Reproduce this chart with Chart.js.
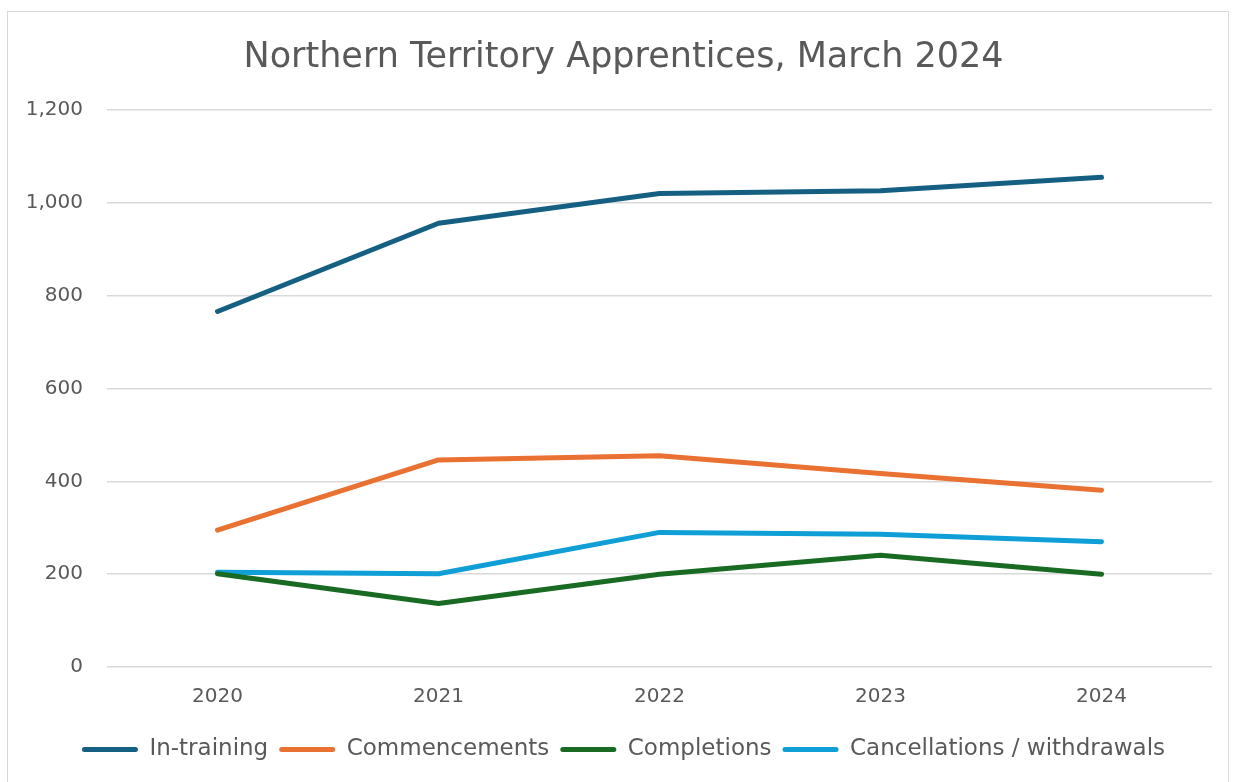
<!DOCTYPE html>
<html>
<head>
<meta charset="utf-8">
<title>Northern Territory Apprentices, March 2024</title>
<script src="https://cdn.jsdelivr.net/npm/chart.js@4.4.1/dist/chart.umd.min.js"></script>
<style>
  html, body { margin: 0; padding: 0; background: #fff; }
  .wrap { position: relative; width: 1236px; height: 782px; overflow: hidden; }
  .frame { position: absolute; left: 7px; top: 11px; width: 1222px; height: 800px; border: 1px solid #d9d9d9; box-sizing: border-box; }
  canvas { position: absolute; left: 0; top: 0; }
</style>
</head>
<body>
<div class="wrap">
  <div class="frame"></div>
  <canvas id="apprenticesChart" width="1236" height="782"></canvas>
</div>
<script>
// Data
const years = ['2020', '2021', '2022', '2023', '2024'];
const inTraining = [766, 956, 1020, 1026, 1055];
const commencements = [295, 446, 455, 417, 381];
const completions = [201, 137, 200, 241, 200];
const cancellations = [204, 201, 290, 286, 270];
const yTicks = [0, 200, 400, 600, 800, 1000, 1200];

const textColor = '#595959';
const gridColor = '#d9d9d9';
const fontFamily = "'DejaVu Sans', sans-serif";

function lineSet(label, data, color) {
    return {
        label: label,
        data: data,
        borderColor: color,
        backgroundColor: color,
        borderWidth: 5,
        borderCapStyle: 'round',
        borderJoinStyle: 'round',
        pointRadius: 0,
        pointHoverRadius: 0,
        tension: 0,
        fill: false
    };
}

// let the y tick labels run past the padded box on the left
const unclipYLabels = {
    id: 'unclipYLabels',
    afterLayout(chart) {
        chart.scales.y.left = 0;
    }
};

const ctx = document.getElementById('apprenticesChart');
new Chart(ctx, {
    type: 'line',
    data: {
        labels: years,
        datasets: [
            lineSet('In-training', inTraining, '#156082'),
            lineSet('Commencements', commencements, '#E97132'),
            lineSet('Completions', completions, '#196B24'),
            lineSet('Cancellations / withdrawals', cancellations, '#0F9ED5')
        ]
    },
    plugins: [unclipYLabels],
    options: {
        responsive: false,
        animation: false,
        layout: {
            padding: { top: 37, right: 24, bottom: 11, left: 35 }
        },
        plugins: {
            title: {
                display: true,
                text: 'Northern Territory Apprentices, March 2024',
                color: textColor,
                font: { family: fontFamily, size: 35, weight: 'normal' },
                padding: { top: 0, bottom: 31 }
            },
            legend: {
                position: 'bottom',
                labels: {
                    color: textColor,
                    font: { family: fontFamily, size: 23 },
                    boxWidth: 56,
                    boxHeight: 5,
                    padding: 11,
                    useBorderRadius: true,
                    borderRadius: 2.5,
                    generateLabels(chart) {
                        const items = Chart.defaults.plugins.legend.labels.generateLabels(chart);
                        items.forEach(item => {
                            item.lineWidth = 0;
                            item.fillStyle = item.strokeStyle;
                        });
                        return items;
                    }
                }
            },
            tooltip: { enabled: false }
        },
        scales: {
            x: {
                offset: true,
                grid: { display: false, drawTicks: false },
                border: { display: false },
                ticks: {
                    color: textColor,
                    font: { family: fontFamily, size: 20 },
                    padding: 18
                }
            },
            y: {
                min: 0,
                max: 1200,
                afterBuildTicks(scale) {
                    scale.ticks = yTicks.map(v => ({ value: v }));
                },
                afterFit(scale) {
                    scale.width = 72;
                },
                grid: { color: gridColor, lineWidth: 1.5, drawTicks: false },
                border: { display: false },
                ticks: {
                    color: textColor,
                    font: { family: fontFamily, size: 20 },
                    padding: 24,
                    callback: v => v.toLocaleString('en-AU')
                }
            }
        }
    }
});
</script>
</body>
</html>
